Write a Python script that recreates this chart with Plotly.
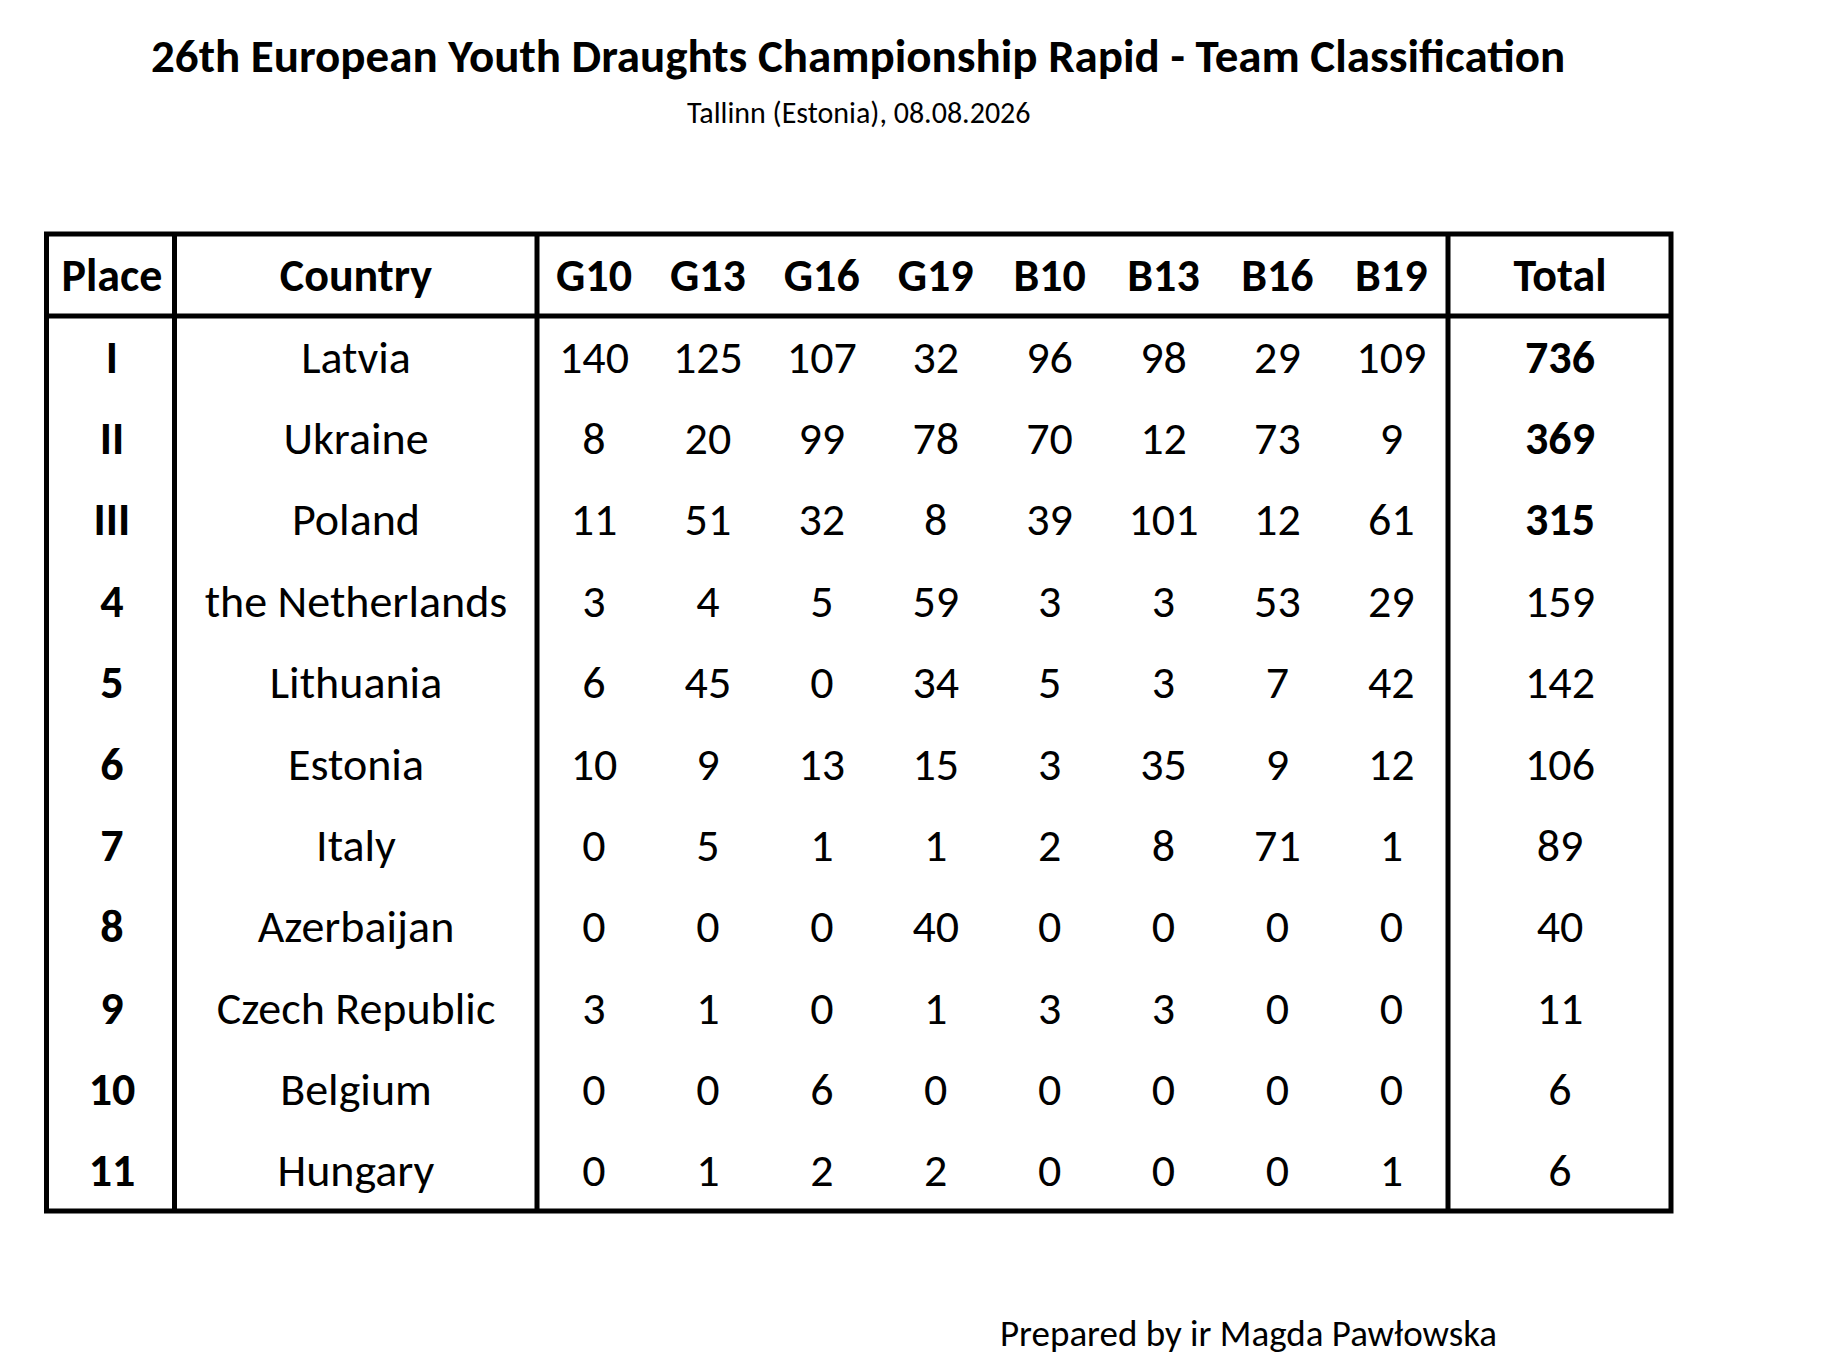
import plotly.graph_objects as go

# table data
places = ["I", "II", "III", "4", "5", "6", "7", "8", "9", "10", "11"]
countries = ["Latvia", "Ukraine", "Poland", "the Netherlands", "Lithuania", "Estonia",
             "Italy", "Azerbaijan", "Czech Republic", "Belgium", "Hungary"]
categories = ["G10", "G13", "G16", "G19", "B10", "B13", "B16", "B19"]
g10 = [140, 8, 11, 3, 6, 10, 0, 0, 3, 0, 0]
g13 = [125, 20, 51, 4, 45, 9, 5, 0, 1, 0, 1]
g16 = [107, 99, 32, 5, 0, 13, 1, 0, 0, 6, 2]
g19 = [32, 78, 8, 59, 34, 15, 1, 40, 1, 0, 2]
b10 = [96, 70, 39, 3, 5, 3, 2, 0, 3, 0, 0]
b13 = [98, 12, 101, 3, 3, 35, 8, 0, 3, 0, 0]
b16 = [29, 73, 12, 53, 7, 9, 71, 0, 0, 0, 0]
b19 = [109, 9, 61, 29, 42, 12, 1, 0, 0, 0, 1]
totals = [736, 369, 315, 159, 142, 106, 89, 40, 11, 6, 6]

title = "26th European Youth Draughts Championship Rapid - Team Classification"
subtitle = "Tallinn (Estonia), 08.08.2026"
footer = "Prepared by ir Magda Pawłowska"

# page geometry (pixels)
W, H = 1822, 1364
FONT = "Carlito, Lato, sans-serif"
left, right, top, bottom = 46.5, 1671, 234, 1211
head_bottom = 316
row_h = (bottom - head_bottom) / len(countries)
place_x, country_x = 112, 356
cat_x0, cat_step = 594, 113.9
total_x = 1560
sep_x = [174.5, 537, 1448]
text_dy = 4.5   # text sits a little below the cell middle
cell_size = 46

cat_x = [cat_x0 + i * cat_step for i in range(len(categories))]
row_y = [head_bottom + row_h * (i + 0.5) + text_dy for i in range(len(countries))]
head_y = (top + head_bottom) / 2 + text_dy
series = [g10, g13, g16, g19, b10, b13, b16, b19]

fig = go.Figure()


def add_text(xs, ys, texts, size=cell_size, bold=False):
    fig.add_trace(go.Scatter(
        x=xs, y=ys, text=texts, mode="text", textposition="middle center",
        textfont=dict(family=FONT, size=size, color="black",
                      weight="bold" if bold else "normal"),
        hoverinfo="skip", showlegend=False))


# header
add_text([place_x, country_x] + cat_x + [total_x], [head_y] * 11,
         ["Place", "Country"] + categories + ["Total"], bold=True)
# body
add_text([place_x] * len(places), row_y, places, bold=True)
add_text([country_x] * len(countries), row_y, countries)
for x, vals in zip(cat_x, series):
    add_text([x] * len(vals), row_y, [str(v) for v in vals])
add_text([total_x] * 3, row_y[:3], [str(v) for v in totals[:3]], bold=True)
add_text([total_x] * (len(totals) - 3), row_y[3:], [str(v) for v in totals[3:]])

# grid lines
lw = 5
fig.add_shape(type="rect", x0=left, x1=right, y0=top, y1=bottom,
              line=dict(color="black", width=lw))
fig.add_shape(type="line", x0=left, x1=right, y0=head_bottom, y1=head_bottom,
              line=dict(color="black", width=lw))
for sx in sep_x:
    fig.add_shape(type="line", x0=sx, x1=sx, y0=top, y1=bottom,
                  line=dict(color="black", width=lw))

# title texts
fig.add_annotation(x=858, y=56, text="<b>" + title + "</b>", showarrow=False,
                   font=dict(family=FONT, size=47, color="black"))
fig.add_annotation(x=859, y=112, text=subtitle, showarrow=False,
                   font=dict(family=FONT, size=30, color="black"))
fig.add_annotation(x=1248, y=1333, text=footer, showarrow=False,
                   font=dict(family=FONT, size=37, color="black"))

fig.update_layout(
    width=W, height=H,
    margin=dict(l=0, r=0, t=0, b=0),
    paper_bgcolor="white", plot_bgcolor="white",
    xaxis=dict(range=[0, W], visible=False, fixedrange=True),
    yaxis=dict(range=[H, 0], visible=False, fixedrange=True),
)

fig.write_html("out.html", config={"displayModeBar": False},
               post_script="document.body.style.margin='0';")
